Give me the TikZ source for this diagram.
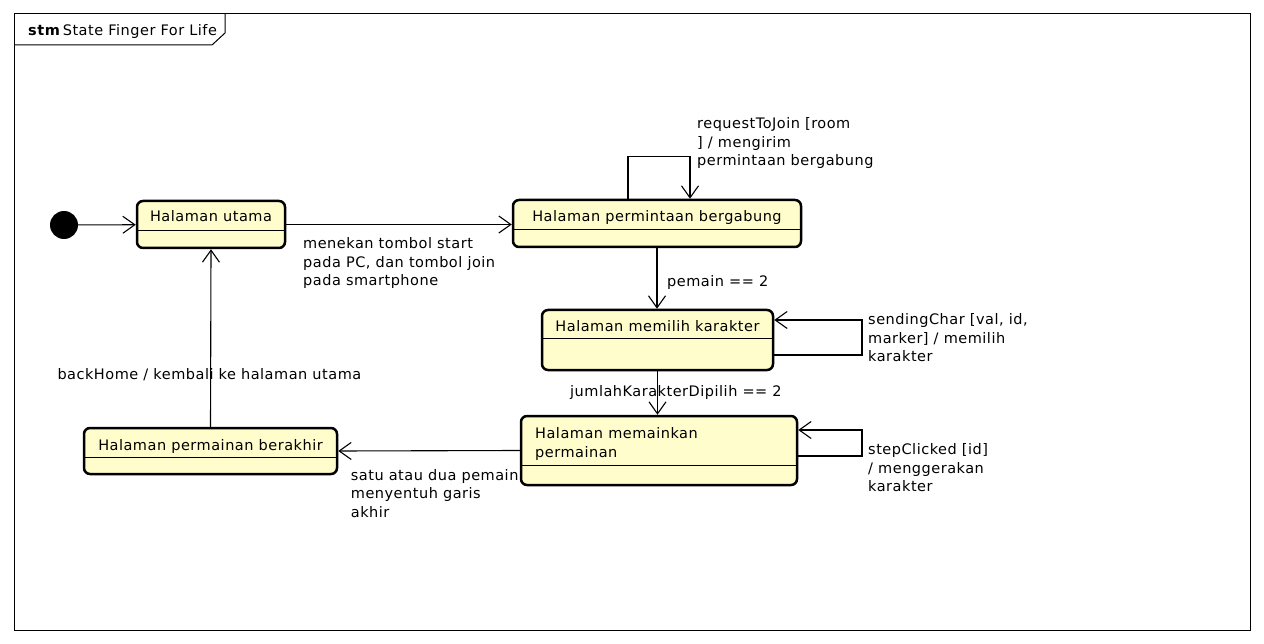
\documentclass[tikz,border=0pt]{standalone}
\usepackage{fontspec}
\setmainfont{DejaVu Sans}[LetterSpace=3.5]
\usetikzlibrary{arrows.meta}
\definecolor{statefill}{RGB}{255,253,204}
\tikzset{
  x=1pt, y=-1pt,
  every node/.style={font=\fontsize{14.5}{18.5}\selectfont, inner sep=0pt},
  state/.style={draw, line width=2.5pt, rounded corners=6pt, fill=statefill},
  divider/.style={line width=1pt},
  conn/.style={line width=1.1pt, -{Straight Barb[length=12pt,width=17pt,line width=1.1pt]}},
  lbl/.style={anchor=base west, align=left},
}
\begin{document}
\begin{tikzpicture}
\useasboundingbox (0,0) rectangle (1264,644);
% frame
\draw[line width=1pt] (14,14) rectangle (1250,630);
\draw[line width=1pt] (14,45) -- (212,45) -- (225,33) -- (225,14);
\node[anchor=base west] (title) at (28,36) {\textbf{stm}\,State Finger For Life};

% states
\node[state, minimum width=148, minimum height=47] (utama) at (211,224.5) {};
\draw[divider] (137,231) -- (285,231);
\node[anchor=base] at (211,221.5) {Halaman utama};

\node[state, minimum width=288, minimum height=47] (perm) at (657,223.5) {};
\draw[divider] (513,230) -- (801,230);
\node[anchor=base] at (657,221.5) {Halaman permintaan bergabung};

\node[state, minimum width=231, minimum height=60] (pilih) at (657.5,340) {};
\draw[divider] (542,339) -- (773,339);
\node[anchor=base] at (657.5,331.5) {Halaman memilih karakter};

\node[state, minimum width=276, minimum height=69] (main) at (659,450.5) {};
\draw[divider] (521,465) -- (797,465);
\node[lbl] at (535,457.3) {Halaman memainkan\\permainan};

\node[state, minimum width=253, minimum height=46] (akhir) at (210.5,451) {};
\draw[divider] (84,457) -- (337,457);
\node[anchor=base] at (210.5,450) {Halaman permainan berakhir};

% initial
\node[circle, fill=black, minimum size=28] (init) at (64,225) {};

% transitions
\draw[conn] (init) -- (utama);
\draw[conn] (utama.east) -- (utama.east -| perm.west);
\node[lbl] at (303,286) {menekan tombol start\\pada PC, dan tombol join\\pada smartphone};

\draw[conn] ([xshift=-29pt]perm.north) -- ++(0,-42) -| ([xshift=33pt]perm.north);
\node[lbl] at (697,166) {requestToJoin [room\\] / mengirim\\permintaan bergabung};

\draw[conn] (perm.south) -- (perm.south |- pilih.north);
\node[lbl] at (667,286.7) {pemain == 2};

\draw[conn] ([yshift=-15pt]pilih.east) -| (862,320) -- ([yshift=20pt]pilih.east);
\node[lbl] at (868,361.7) {sendingChar [val, id,\\marker] / memilih\\karakter};

\draw[conn] (pilih.south) -- (pilih.south |- main.north);
\node[lbl] at (570,396.7) {jumlahKarakterDipilih == 2};

\draw[conn] ([yshift=-5.5pt]main.east) -| (862,430) -- ([yshift=20.5pt]main.east);
\node[lbl] at (868,491.7) {stepClicked [id]\\/ menggerakan\\karakter};

\draw[conn] (main.west) -- (akhir.east);
\node[lbl] at (350.7,517.3) {satu atau dua pemain\\menyentuh garis\\akhir};

\draw[conn] (akhir.north) -- (utama.south);
\node[lbl] at (57.3,380) {backHome / kembali ke halaman utama};
\end{tikzpicture}
\end{document}
